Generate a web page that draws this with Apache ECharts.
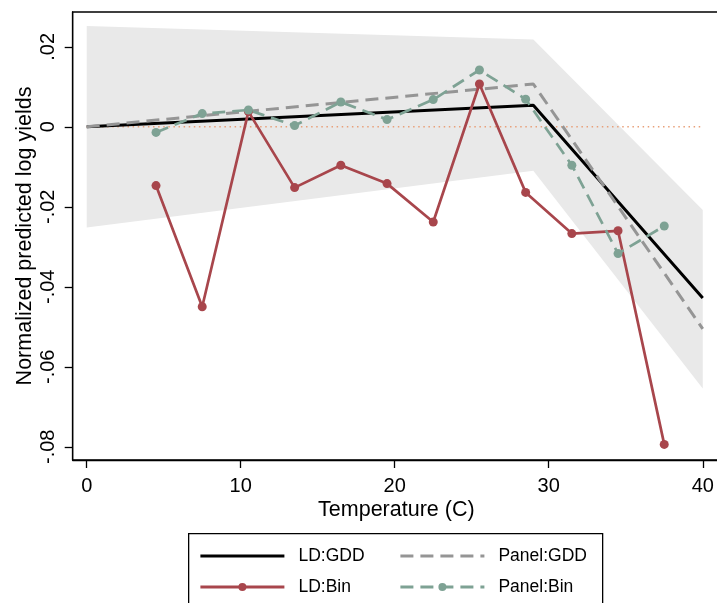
<!DOCTYPE html>
<html><head><meta charset="utf-8">
<script src="https://cdn.jsdelivr.net/npm/echarts@6/dist/echarts.min.js"></script>
<style>html,body{margin:0;padding:0;background:#fff}#c{width:717px;height:603px}</style>
</head><body><div id="c"></div>
<script>
// ---- data ----
const binTemps = [4.5, 7.5, 10.5, 13.5, 16.5, 19.5, 22.5, 25.5, 28.5, 31.5, 34.5, 37.5];
const ldBin    = [-0.0147, -0.0450, 0.0038, -0.0152, -0.0096, -0.0142, -0.0238, 0.0107, -0.0164, -0.0267, -0.0260, -0.0794];
const panelBin = [-0.0014, 0.0033, 0.0042, 0.0003, 0.0062, 0.0018, 0.0068, 0.0142, 0.0069, -0.0096, -0.0317, -0.0248];
const gddKnots = [0, 29, 40];
const ldGdd    = [0, 0.0054, -0.0428];
const panelGdd = [0, 0.0107, -0.0505];
const ciLower  = [-0.0252, -0.0110, -0.0654];
const ciUpper  = [0.0252, 0.0218, -0.0208];
const zeroLineX = [0, 40];
const xTicks = [0, 10, 20, 30, 40];
const yTicks = [-0.08, -0.06, -0.04, -0.02, 0, 0.02];

const pairs = (xs, ys) => xs.map((x, i) => [x, ys[i]]);
const yFmt = v => {
  if (Math.abs(v) < 1e-9) return '0';
  return (v < 0 ? '-' : '') + Math.abs(v).toFixed(2).replace(/^0/, '');
};
const FONT = '"Liberation Sans", Arial, Helvetica, sans-serif';

const chart = echarts.init(document.getElementById('c'), null, {renderer: 'canvas'});
chart.setOption({
  animation: false,
  backgroundColor: '#fff',
  textStyle: {fontFamily: FONT, color: '#000'},
  grid: {left: 72.7, top: 12, right: -3, bottom: 143, show: true, borderColor: '#000', borderWidth: 1.3,
         backgroundColor: 'transparent', containLabel: false, outerBoundsMode: 'none'},
  xAxis: {
    type: 'value', min: -0.91, max: 41.12,
    name: 'Temperature (C)', nameLocation: 'middle', nameGap: 39, nameMoveOverlap: false,
    nameTextStyle: {fontSize: 21.5, fontFamily: FONT, color: '#000'},
    axisLine: {show: true, onZero: false, lineStyle: {color: '#000', width: 1.3}},
    axisTick: {show: true, length: 8, lineStyle: {color: '#000', width: 1.3}, customValues: xTicks},
    axisLabel: {fontSize: 20, color: '#000', margin: 16, fontFamily: FONT, customValues: xTicks},
    splitLine: {show: false}
  },
  yAxis: {
    type: 'value', min: -0.0833, max: 0.0287,
    name: 'Normalized predicted log yields', nameLocation: 'middle', nameGap: 37, nameRotate: 90, nameMoveOverlap: false,
    nameTextStyle: {fontSize: 21.5, fontFamily: FONT, color: '#000'},
    axisLine: {show: true, onZero: false, lineStyle: {color: '#000', width: 1.3}},
    axisTick: {show: true, length: 8, lineStyle: {color: '#000', width: 1.3}, customValues: yTicks},
    axisLabel: {fontSize: 20, color: '#000', margin: 14, rotate: 90, fontFamily: FONT, customValues: yTicks, formatter: yFmt},
    splitLine: {show: false}
  },
  legend: [
    {data: [{name: 'LD:GDD', itemStyle: {opacity: 0}}, 'LD:Bin'], orient: 'vertical', left: 199, top: 546, padding: 0,
     itemWidth: 84, itemHeight: 10, itemGap: 11, lineStyle: {width: 2.8},
     textStyle: {fontSize: 17.5, fontFamily: FONT, color: '#000', lineHeight: 20, padding: [0, 0, 0, 9]}},
    {data: [{name: 'Panel:GDD', itemStyle: {opacity: 0}}, 'Panel:Bin'], orient: 'vertical', left: 399, top: 546, padding: 0,
     itemWidth: 84, itemHeight: 10, itemGap: 11, lineStyle: {width: 2.8},
     textStyle: {fontSize: 17.5, fontFamily: FONT, color: '#000', lineHeight: 20, padding: [0, 0, 0, 9]}}
  ],
  graphic: [{type: 'rect', left: 188, top: 533, shape: {width: 414, height: 80}, style: {fill: 'transparent', stroke: '#000', lineWidth: 1.3}, silent: true}],
  series: [
    {name: 'ci', type: 'custom', data: [0], silent: true, z: 1,
     renderItem: (params, api) => {
       const pts = gddKnots.map((x, i) => api.coord([x, ciUpper[i]]))
         .concat(gddKnots.map((x, i) => api.coord([x, ciLower[i]])).reverse());
       return {type: 'polygon', shape: {points: pts}, style: {fill: '#e9e9e9', stroke: 'none'}};
     }},
    {name: 'zero', type: 'line', data: zeroLineX.map(x => [x, 0]), symbol: 'none',
     lineStyle: {color: '#e8a07a', width: 1.5, type: [1.5, 3.6]}, silent: true, z: 2},
    {name: 'LD:GDD', type: 'line', data: pairs(gddKnots, ldGdd), symbol: 'none',
     itemStyle: {color: '#000'}, lineStyle: {color: '#000', width: 3}, z: 3},
    {name: 'Panel:GDD', type: 'line', data: pairs(gddKnots, panelGdd), symbol: 'none',
     itemStyle: {color: '#959595'}, lineStyle: {color: '#959595', width: 3, type: [13, 7]}, z: 3},
    {name: 'LD:Bin', type: 'line', data: pairs(binTemps, ldBin), symbol: 'circle', symbolSize: 9,
     itemStyle: {color: '#a8464c'}, lineStyle: {color: '#a8464c', width: 2.7}, z: 4},
    {name: 'Panel:Bin', type: 'line', data: pairs(binTemps, panelBin), symbol: 'circle', symbolSize: 9,
     itemStyle: {color: '#7ea294'}, lineStyle: {color: '#7ea294', width: 2.7, type: [13, 7]}, z: 4}
  ]
});
</script>
</body></html>
